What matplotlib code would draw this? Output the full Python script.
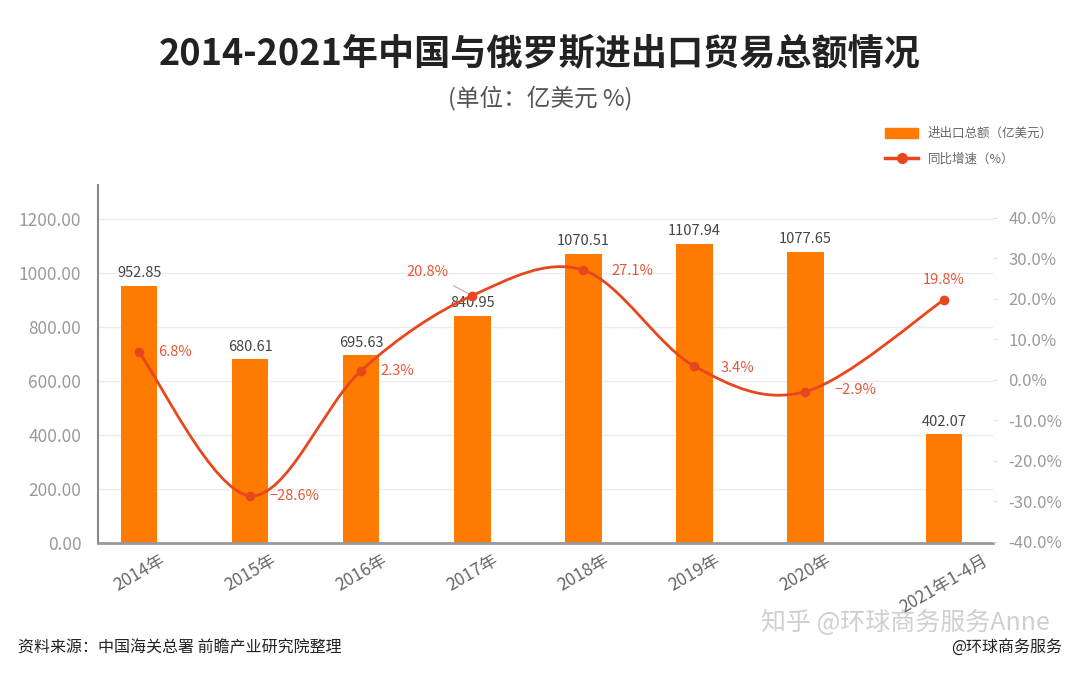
import numpy as np
import matplotlib
matplotlib.use('Agg')
import matplotlib.pyplot as plt
from matplotlib.path import Path
from matplotlib.patches import PathPatch, Patch
from matplotlib.lines import Line2D

plt.rcParams['font.family'] = ['Noto Sans CJK SC', 'DejaVu Sans']
plt.rcParams['axes.unicode_minus'] = False

# data
years = ['2014年', '2015年', '2016年', '2017年', '2018年', '2019年', '2020年', '2021年1-4月']
total = [952.85, 680.61, 695.63, 840.95, 1070.51, 1107.94, 1077.65, 402.07]
growth = [6.8, -28.6, 2.3, 20.8, 27.1, 3.4, -2.9, 19.8]
growth_txt = ['6.8%', '−28.6%', '2.3%', '20.8%', '27.1%', '3.4%', '−2.9%', '19.8%']
left_ticks = [0, 200, 400, 600, 800, 1000, 1200]
right_ticks = [-40, -30, -20, -10, 0, 10, 20, 30, 40]

# label offsets (points) for the percent labels
pct_off = [(14, 0), (14, 0), (14, 0), (-32, 17), (20, -1), (19, -1), (21, 1), (0, 14)]
pct_ha = ['left', 'left', 'left', 'center', 'left', 'left', 'left', 'center']

ORANGE = '#FF7A00'
RED = '#E8461E'
PCT = '#E8563A'

xpos = np.arange(len(years), dtype=float)
xpos[-1] += 0.25   # last bar sits a bit further right

fig = plt.figure(figsize=(10.8, 6.75), dpi=100)
ax = fig.add_axes([98/1080, 1-543/675, 895/1080, 358/675])
ax2 = ax.twinx()

ax.bar(xpos, total, width=0.33, color=ORANGE, zorder=2)
for x, v in zip(xpos, total):
    ax.annotate(f'{v:.2f}', (x, v), xytext=(0, 4), textcoords='offset points',
                ha='center', va='bottom', fontsize=10.5, color='#444444')

ax.set_xlim(-0.37, 7.69)
ax.set_ylim(0, 1326)
ax.set_yticks(left_ticks)
ax.set_yticklabels([f'{t:.2f}' for t in left_ticks])
ax.grid(axis='y', color='#ececec', lw=1, zorder=0)
ax.set_axisbelow(True)
ax.tick_params(axis='y', length=0, labelsize=12.5, labelcolor='#9a9a9a', pad=12)
ax.set_xticks(xpos)
ax.set_xticklabels(years, rotation=30, ha='center')
ax.tick_params(axis='x', length=0, labelsize=12.5, labelcolor='#666666', pad=6)
for s in ['top', 'right']:
    ax.spines[s].set_visible(False)
ax.spines['left'].set_color('#888888')
ax.spines['left'].set_linewidth(1.5)
ax.spines['bottom'].set_color('#999999')
ax.spines['bottom'].set_linewidth(2)

# smooth growth curve (Catmull-Rom bezier through the points)
pts = np.column_stack([xpos, growth])
verts = [tuple(pts[0])]
codes = [Path.MOVETO]
n = len(pts)
for i in range(n - 1):
    p0 = pts[max(i - 1, 0)]
    p1 = pts[i]
    p2 = pts[i + 1]
    p3 = pts[min(i + 2, n - 1)]
    c1 = p1 + (p2 - p0) / 6
    c2 = p2 - (p3 - p1) / 6
    verts += [tuple(c1), tuple(c2), tuple(p2)]
    codes += [Path.CURVE4] * 3
ax2.add_patch(PathPatch(Path(verts, codes), fill=False, edgecolor=RED, lw=2, zorder=3))
ax2.plot(xpos, growth, 'o', color=RED, ms=6, zorder=4)

for i, (x, g, t) in enumerate(zip(xpos, growth, growth_txt)):
    if i == 3:
        ax2.annotate(t, (x, g), xytext=pct_off[i], textcoords='offset points',
                     ha='center', va='center', fontsize=10.5, color=PCT,
                     arrowprops=dict(arrowstyle='-', color='#c9a0b8', lw=0.8,
                                     shrinkA=6, shrinkB=2))
    else:
        ax2.annotate(t, (x, g), xytext=pct_off[i], textcoords='offset points',
                     ha=pct_ha[i], va='center', fontsize=10.5, color=PCT)

ax2.set_ylim(-40.25, 48.1)
ax2.set_yticks(right_ticks)
ax2.set_yticklabels([f'{t:.1f}%' for t in right_ticks])
ax2.tick_params(axis='y', length=3, color='#dddddd', labelsize=12, labelcolor='#9a9a9a', pad=8)
for s in ['top', 'right', 'left', 'bottom']:
    ax2.spines[s].set_visible(False)

# titles
fig.text(0.5, 1-55/675, '2014-2021年中国与俄罗斯进出口贸易总额情况', ha='center', va='center',
         fontsize=26, fontweight='bold', color='#222222')
fig.text(0.5, 1-98/675, '(单位：亿美元 %)', ha='center', va='center', fontsize=17, color='#555555')

# legend
handles = [Patch(color=ORANGE, label='进出口总额（亿美元）'),
           Line2D([0], [0], color=RED, lw=2.5, marker='o', ms=7, label='同比增速（%）')]
fig.legend(handles=handles, loc='upper left', bbox_to_anchor=(874/1080, 1-116/675),
           frameon=False, fontsize=9, labelcolor='#666666', handlelength=2.6,
           handleheight=0.9, labelspacing=1.0)

# footer
fig.text(18/1080, 1-648/675, '资料来源：中国海关总署 前瞻产业研究院整理', ha='left', va='center',
         fontsize=11.5, color='#222222')
fig.text(1062/1080, 1-648/675, '@环球商务服务', ha='right', va='center', fontsize=11.5, color='#222222')
fig.text(905/1080, 1-623/675, '知乎 @环球商务服务Anne', ha='center', va='center',
         fontsize=18, color='#c4c4c4', alpha=0.8)

fig.savefig('out.png', dpi=100)
